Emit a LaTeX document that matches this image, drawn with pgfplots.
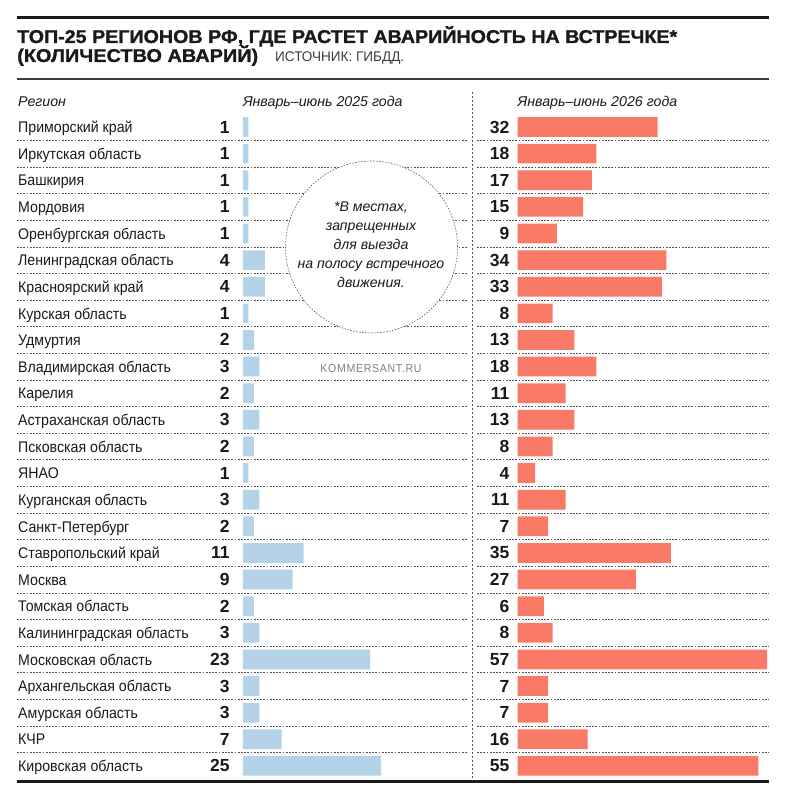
\documentclass[border=0pt]{standalone}
\usepackage{fontspec}
\setmainfont{Liberation Sans}
\newfontfamily\cond[FakeStretch=0.92]{Liberation Sans}
\newfontfamily\titlefont[FakeBold=1.2]{Liberation Sans Bold}
\usepackage{graphicx}
\usepackage{pgfplots}
\usepackage{pgfplotstable}
\pgfplotsset{compat=1.18}
\definecolor{lblue}{HTML}{B4D2E8}
\definecolor{salmon}{HTML}{F97A66}
\definecolor{ink}{HTML}{1A1A1A}
\definecolor{dotc}{HTML}{555555}

\pgfplotstableread[col sep=comma]{
i,name,a,b
0,Приморский край,1,32
1,Иркутская область,1,18
2,Башкирия,1,17
3,Мордовия,1,15
4,Оренбургская область,1,9
5,Ленинградская область,4,34
6,Красноярский край,4,33
7,Курская область,1,8
8,Удмуртия,2,13
9,Владимирская область,3,18
10,Карелия,2,11
11,Астраханская область,3,13
12,Псковская область,2,8
13,ЯНАО,1,4
14,Курганская область,3,11
15,Санкт-Петербург,2,7
16,Ставропольский край,11,35
17,Москва,9,27
18,Томская область,2,6
19,Калининградская область,3,8
20,Московская область,23,57
21,Архангельская область,3,7
22,Амурская область,3,7
23,КЧР,7,16
24,Кировская область,25,55
}\data

\pgfplotsset{
  rowaxis/.style={
    scale only axis, height=665.5pt,
    ymin=-0.5, ymax=24.5, y dir=reverse,
    axis line style={draw=none}, tick style={draw=none},
    xtick=\empty, ytick={0.5,1.5,...,23.5}, yticklabel=\empty,
    ymajorgrids,
    major grid style={dotc, line width=0.6pt, dash pattern=on 1.8pt off 1.4pt},
    clip=false
  },
  valnodes/.style={draw=none, nodes near coords, point meta=explicit symbolic,
    every node near coord/.style={anchor=base east, inner sep=0pt, xshift=#1, yshift=-6pt,
      font=\fontsize{17.5}{17.5}\selectfont\bfseries, text=ink}}
}

\begin{document}
\begin{tikzpicture}
\useasboundingbox (0pt,0pt) rectangle (786pt,800pt);

% left block
\begin{axis}[rowaxis, at={(17pt,686.3pt)}, anchor=north west, width=450pt,
  xmin=-40.83, xmax=40.54]
\addplot[xbar, bar width=19.7pt, fill=lblue, draw=none] table[x=a, y=i]{\data};
\addplot[valnodes=-13pt] table[x expr=0, y=i, meta=a]{\data};
\addplot[draw=none, nodes near coords, point meta=explicit symbolic,
  every node near coord/.style={anchor=base west, inner sep=0pt, xshift=1pt, yshift=-5.7pt,
    font=\cond\fontsize{15.4}{15.4}\selectfont, text=ink}]
  table[x expr=-40.83, y=i, meta=name]{\data};
\end{axis}

% right block
\begin{axis}[rowaxis, at={(477pt,686.3pt)}, anchor=north west, width=292pt,
  xmin=-9.25, xmax=57.42]
\addplot[xbar, bar width=19.7pt, fill=salmon, draw=none] table[x=b, y=i]{\data};
\addplot[valnodes=-8pt] table[x expr=0, y=i, meta=b]{\data};
\end{axis}

% rules
\draw[line width=2.5pt, ink] (16.5pt,782.5pt) -- (768.5pt,782.5pt);
\draw[line width=1.2pt, ink!85] (16.5pt,721pt) -- (768.5pt,721pt);
\draw[line width=3pt, ink] (16.5pt,18pt) -- (768.5pt,18pt);
\draw[dotc, line width=0.6pt, dash pattern=on 2pt off 2pt] (472pt,708pt) -- (472pt,19.5pt);

% titles
\node[anchor=base west, inner sep=0pt, text=ink] at (17pt,757pt)
  {\resizebox{660pt}{\height}{\titlefont\fontsize{18.5}{18.5}\selectfont ТОП-25 РЕГИОНОВ РФ, ГДЕ РАСТЕТ АВАРИЙНОСТЬ НА ВСТРЕЧКЕ*}};
\node[anchor=base west, inner sep=0pt, text=ink] at (17pt,738pt)
  {\resizebox{241pt}{\height}{\titlefont\fontsize{18.5}{18.5}\selectfont (КОЛИЧЕСТВО АВАРИЙ)}};
\node[anchor=base west, inner sep=0pt, text=ink!85] at (275pt,738pt)
  {\resizebox{129pt}{\height}{\fontsize{14}{14}\selectfont ИСТОЧНИК: ГИБДД.}};

% headers
\node[anchor=base west, inner sep=0pt, text=ink, font=\itshape\fontsize{14.2}{14.2}\selectfont] at (18pt,693.3pt) {Регион};
\node[anchor=base west, inner sep=0pt, text=ink, font=\itshape\fontsize{14.2}{14.2}\selectfont] at (242.8pt,693.3pt) {Январь–июнь 2025 года};
\node[anchor=base west, inner sep=0pt, text=ink, font=\itshape\fontsize{14.2}{14.2}\selectfont] at (517.5pt,693.3pt) {Январь–июнь 2026 года};

% watermark
\node[text=black!50, font=\cond\addfontfeatures{LetterSpace=6}\fontsize{11.5}{11.5}\selectfont] at (371pt,431.5pt) {KOMMERSANT.RU};

% footnote circle
\draw[dotc, line width=0.6pt, dash pattern=on 1.5pt off 1.5pt, fill=white] (371.5pt,553pt) circle[radius=86pt];
\node[align=center, text=ink, font=\itshape\fontsize{14.1}{19}\selectfont] at (371pt,555pt)
  {*В местах,\\запрещенных\\для выезда\\на полосу встречного\\движения.};
\end{tikzpicture}
\end{document}
